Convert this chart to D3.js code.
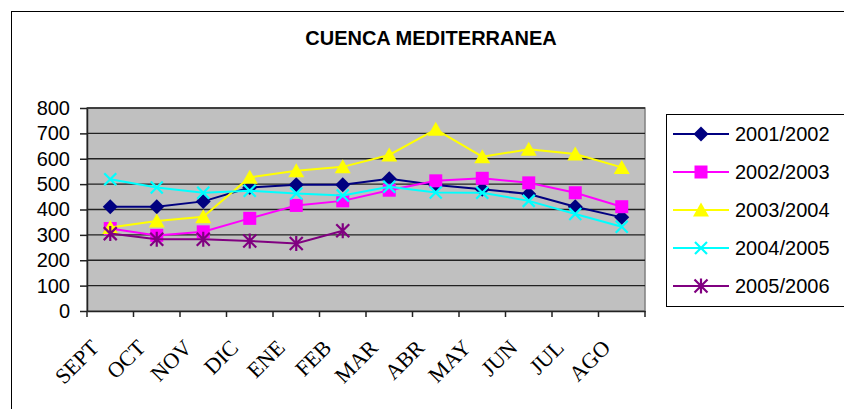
<!DOCTYPE html>
<html><head><meta charset="utf-8">
<script src="https://cdn.jsdelivr.net/npm/d3@7"></script>
<style>body{margin:0;background:#fff}svg{display:block}</style>
</head><body>
<svg id="chart" width="844" height="409"></svg>
<script>
const title = "CUENCA MEDITERRANEA";
const months = ["SEPT","OCT","NOV","DIC","ENE","FEB","MAR","ABR","MAY","JUN","JUL","AGO"];
const yTicks = [0,100,200,300,400,500,600,700,800];
const seriesNames = ["2001/2002","2002/2003","2003/2004","2004/2005","2005/2006"];
const s2001 = [411,411,432,487,498,498,521,497,480,461,411,369];
const s2002 = [325,298,312,365,416,434,476,513,523,505,466,411];
const s2003 = [329,355,371,527,553,568,615,716,608,637,619,566];
const s2004 = [519,487,466,474,463,455,490,467,466,434,382,332];
const s2005 = [305,283,283,276,266,316];
const colors = ["#000080","#FF00FF","#FFFF00","#00FFFF","#800080"];
const markers = ["diamond","square","triangle","times","asterisk"];

const svg = d3.select("#chart");
const W = 844, H = 409;
const plot = {left:87, right:645, top:108, bottom:311};

const x = d3.scaleBand().domain(months).range([plot.left, plot.right]).padding(0);
const y = d3.scaleLinear().domain([0,800]).range([plot.bottom, plot.top]);

// outer frame
svg.append("rect").attr("x",11.5).attr("y",11.5).attr("width",W).attr("height",H)
  .attr("fill","#fff").attr("stroke","#000").attr("stroke-width",1);

// title
svg.append("text").attr("x",431).attr("y",45).attr("text-anchor","middle")
  .attr("font-family","Liberation Sans, Arial, sans-serif").attr("font-weight","bold")
  .attr("font-size",20).text(title);

// plot area
svg.append("rect").attr("x",plot.left).attr("y",plot.top)
  .attr("width",plot.right-plot.left).attr("height",plot.bottom-plot.top)
  .attr("fill","#C0C0C0").attr("stroke","#808080").attr("stroke-width",1.5);

// gridlines
svg.append("g").selectAll("line").data(yTicks.filter(d=>d>0)).join("line")
  .attr("x1",plot.left).attr("x2",plot.right)
  .attr("y1",d=>y(d)).attr("y2",d=>y(d))
  .attr("stroke","#222").attr("stroke-width",1.3);

// y axis
const yAxis = svg.append("g").attr("transform",`translate(${plot.left},0)`)
  .call(d3.axisLeft(y).tickValues(yTicks).tickSize(7).tickPadding(10).tickSizeOuter(0));
yAxis.selectAll("text").attr("font-family","Liberation Sans, Arial, sans-serif")
  .attr("font-size",20).attr("fill","#000");
yAxis.selectAll("line,path").attr("stroke","#222").attr("stroke-width",1.5);

// x axis
const xAxis = svg.append("g").attr("transform",`translate(0,${plot.bottom})`)
  .call(d3.axisBottom(x).tickSize(0).tickSizeOuter(0));
xAxis.select("path").attr("stroke","#222").attr("stroke-width",1.5);
xAxis.selectAll(".tick line").remove();
xAxis.selectAll("text")
  .attr("font-family","Liberation Serif, Times New Roman, serif")
  .attr("font-size",22).attr("fill","#000")
  .attr("text-anchor","end").attr("dy",0).attr("y",0)
  .attr("transform","translate(-10,38) rotate(-45)");
// category boundary ticks
const bounds = months.map(m=>x(m)).concat([plot.right]);
svg.append("g").selectAll("line").data(bounds).join("line")
  .attr("x1",d=>d).attr("x2",d=>d).attr("y1",plot.bottom).attr("y2",plot.bottom+6)
  .attr("stroke","#222").attr("stroke-width",1.5);

// marker shapes
function markerPath(type){
  const p = d3.path();
  if(type==="diamond"){ const r=7.5; p.moveTo(0,-r);p.lineTo(r,0);p.lineTo(0,r);p.lineTo(-r,0);p.closePath(); }
  else if(type==="square"){ const r=6.5; p.rect(-r,-r,2*r,2*r); }
  else if(type==="triangle"){ p.moveTo(0,-7.5);p.lineTo(8,6.5);p.lineTo(-8,6.5);p.closePath(); }
  else if(type==="times"){ const r=6; p.moveTo(-r,-r);p.lineTo(r,r);p.moveTo(r,-r);p.lineTo(-r,r); }
  else if(type==="asterisk"){ const r=6.5; p.moveTo(-r,-r);p.lineTo(r,r);p.moveTo(r,-r);p.lineTo(-r,r);p.moveTo(0,-r-1);p.lineTo(0,r+1); }
  return p.toString();
}
function drawMarker(g, type, color){
  const filled = (type==="diamond"||type==="square"||type==="triangle");
  g.append("path").attr("d",markerPath(type))
    .attr("fill",filled?color:"none").attr("stroke",color)
    .attr("stroke-width",filled?0:2.2);
}

const allSeries = [s2001,s2002,s2003,s2004,s2005];
const line = d3.line().x((d,i)=>x(months[i])+x.bandwidth()/2).y(d=>y(d));
allSeries.forEach((vals,si)=>{
  const g = svg.append("g");
  g.append("path").datum(vals).attr("d",line).attr("fill","none")
    .attr("stroke",colors[si]).attr("stroke-width",2);
  vals.forEach((v,i)=>{
    const mg = g.append("g").attr("transform",`translate(${x(months[i])+x.bandwidth()/2},${y(v)})`);
    drawMarker(mg, markers[si], colors[si]);
  });
});

// legend
const lg = svg.append("g");
lg.append("rect").attr("x",666.5).attr("y",114.5).attr("width",200).attr("height",192)
  .attr("fill","#fff").attr("stroke","#000").attr("stroke-width",1);
seriesNames.forEach((n,i)=>{
  const yy = 134 + i*38;
  lg.append("line").attr("x1",673).attr("x2",729).attr("y1",yy).attr("y2",yy)
    .attr("stroke",colors[i]).attr("stroke-width",2);
  const mg = lg.append("g").attr("transform",`translate(701,${yy})`);
  drawMarker(mg, markers[i], colors[i]);
  lg.append("text").attr("x",735).attr("y",yy+7)
    .attr("font-family","Liberation Sans, Arial, sans-serif").attr("font-size",20)
    .text(n);
});
</script>
</body></html>
